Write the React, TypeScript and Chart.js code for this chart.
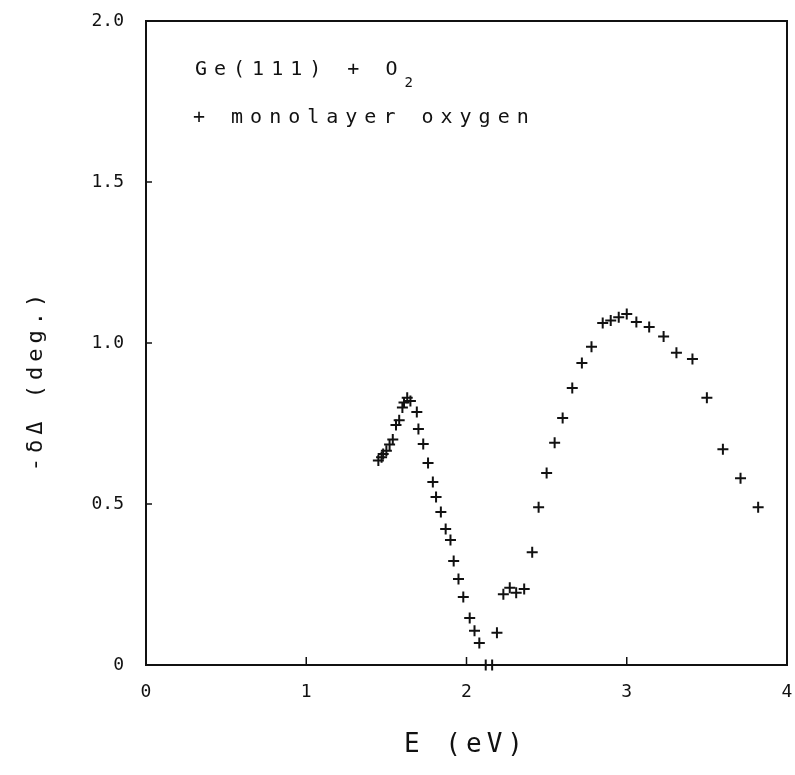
import React, { useEffect, useRef } from 'react';
import { Chart, registerables } from 'chart.js';

Chart.register(...registerables);

// Photon energy E (eV)
const energy = [
  1.45, 1.47, 1.48, 1.50, 1.52, 1.54, 1.56, 1.58, 1.60, 1.61, 1.63, 1.65,
  1.69, 1.70, 1.73, 1.76, 1.79, 1.81, 1.84, 1.87, 1.90, 1.92, 1.95, 1.98,
  2.02, 2.05, 2.08, 2.12, 2.16, 2.19, 2.23, 2.27, 2.31, 2.36, 2.41, 2.45,
  2.50, 2.55, 2.60, 2.66, 2.72, 2.78, 2.85, 2.90, 2.95, 3.00, 3.06, 3.14,
  3.23, 3.31, 3.41, 3.50, 3.60, 3.71, 3.82,
];
// -δΔ (deg.)
const delta = [
  0.635, 0.645, 0.655, 0.665, 0.685, 0.70, 0.745, 0.76, 0.80, 0.815, 0.83, 0.82,
  0.786, 0.733, 0.686, 0.627, 0.568, 0.522, 0.475, 0.422, 0.388, 0.323, 0.267, 0.211,
  0.146, 0.106, 0.068, 0.0, 0.0, 0.10, 0.22, 0.24, 0.224, 0.236, 0.35, 0.49,
  0.596, 0.69, 0.767, 0.86, 0.938, 0.988, 1.062, 1.07, 1.08, 1.09, 1.065, 1.05,
  1.02, 0.97, 0.95, 0.83, 0.67, 0.58, 0.49,
];

const xTicks = [0, 1, 2, 3, 4];
const yTicks = [0, 0.5, 1.0, 1.5, 2.0];
const legendLine1 = 'Ge(111) + O';
const legendSub = '2';
const legendLine2 = '+ monolayer oxygen';
const xTitle = 'E (eV)';
const yTitle = '-δΔ (deg.)';

const INK = '#111';
const MONO = '"DejaVu Sans Mono", monospace';

export default function App() {
  const ref = useRef<HTMLCanvasElement>(null);

  useEffect(() => {
    const canvas = ref.current;
    if (!canvas) return;
    const ctx = canvas.getContext('2d');
    if (!ctx) return;

    const framePlugin = {
      id: 'framePlugin',
      afterDatasetsDraw(chart: any) {
        const c = chart.ctx as CanvasRenderingContext2D;
        const a = chart.chartArea;
        const xs = chart.scales.x;
        const ys = chart.scales.y;
        c.save();
        c.strokeStyle = INK;
        c.lineWidth = 2;
        c.strokeRect(a.left, a.top, a.right - a.left, a.bottom - a.top);
        // inward tick marks
        c.lineWidth = 1.5;
        xTicks.slice(1, -1).forEach((v) => {
          const px = xs.getPixelForValue(v);
          c.beginPath();
          c.moveTo(px, a.bottom);
          c.lineTo(px, a.bottom - 8);
          c.stroke();
        });
        yTicks.slice(1, -1).forEach((v) => {
          const py = ys.getPixelForValue(v);
          c.beginPath();
          c.moveTo(a.left, py);
          c.lineTo(a.left + 6, py);
          c.stroke();
        });

        // legend text
        c.fillStyle = INK;
        c.textBaseline = 'middle';
        c.textAlign = 'left';
        c.font = `20px ${MONO}`;
        (c as any).letterSpacing = '7px';
        c.fillText(legendLine1, 195, 70);
        const w = c.measureText(legendLine1).width;
        c.font = `14px ${MONO}`;
        c.fillText(legendSub, 195 + w, 83);
        c.font = `20px ${MONO}`;
        c.fillText(legendLine2, 193, 118);

        // x title
        c.font = `26px ${MONO}`;
        (c as any).letterSpacing = '5px';
        c.textAlign = 'center';
        c.fillText(xTitle, 466, 745);

        // y title
        c.save();
        c.translate(36, 380);
        c.rotate(-Math.PI / 2);
        c.font = `22px ${MONO}`;
        (c as any).letterSpacing = '5px';
        c.textAlign = 'center';
        c.fillText(yTitle, 0, 0);
        c.restore();
        c.restore();
      },
    };

    const chart = new Chart(ctx, {
      type: 'scatter',
      data: {
        datasets: [
          {
            data: energy.map((x, i) => ({ x, y: delta[i] })),
            pointStyle: 'cross',
            pointRadius: 5.5,
            pointBorderWidth: 2,
            borderColor: INK,
            backgroundColor: INK,
            showLine: false,
            clip: false,
          } as any,
        ],
      },
      options: {
        animation: false,
        responsive: false,
        layout: { padding: { top: 21, right: 8, bottom: 0, left: 0 } },
        plugins: { legend: { display: false }, tooltip: { enabled: false } },
        scales: {
          x: {
            type: 'linear',
            min: 0,
            max: 4,
            afterBuildTicks: (s: any) => {
              s.ticks = xTicks.map((v) => ({ value: v }));
            },
            afterFit: (s: any) => {
              s.height = 110;
              s.paddingLeft = 0;
              s.paddingRight = 0;
            },
            ticks: {
              color: INK,
              padding: 9,
              maxRotation: 0,
              font: { family: MONO, size: 18 },
              callback: (v: any) => String(v),
            },
            grid: { display: false },
            border: { display: false },
          },
          y: {
            type: 'linear',
            min: 0,
            max: 2,
            afterBuildTicks: (s: any) => {
              s.ticks = yTicks.map((v) => ({ value: v }));
            },
            afterFit: (s: any) => {
              s.width = 146;
              s.paddingTop = 0;
              s.paddingBottom = 0;
            },
            ticks: {
              color: INK,
              padding: 14,
              font: { family: MONO, size: 18 },
              callback: (v: any) => (Number(v) === 0 ? '0' : Number(v).toFixed(1)),
            },
            grid: { display: false },
            border: { display: false },
          },
        },
      },
      plugins: [framePlugin],
    });

    return () => chart.destroy();
  }, []);

  return (
    <div style={{ position: 'absolute', left: 0, top: 0, width: 795, height: 775, background: '#fff' }}>
      <canvas ref={ref} width={795} height={775} style={{ display: 'block' }} />
    </div>
  );
}
